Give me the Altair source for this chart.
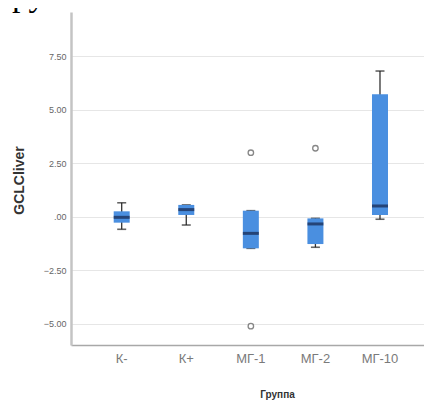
import altair as alt
import pandas as pd

# ---- data ----
groups = ["К-", "К+", "МГ-1", "МГ-2", "МГ-10"]
whisker_low = [-0.59, -0.39, -1.48, -1.43, -0.12]
q1 = [-0.28, 0.08, -1.48, -1.28, 0.08]
median = [-0.03, 0.33, -0.78, -0.34, 0.50]
q3 = [0.25, 0.55, 0.28, -0.08, 5.73]
whisker_high = [0.65, 0.55, 0.28, -0.08, 6.81]
outlier_group = ["МГ-1", "МГ-1", "МГ-2"]
outlier_value = [2.99, -5.12, 3.20]
y_ticks = [-5.0, -2.5, 0.0, 2.5, 5.0, 7.5]
top_text = "группой МГ-10 показала зн"

box_df = pd.DataFrame({
    "group": groups, "lo": whisker_low, "q1": q1,
    "med": median, "q3": q3, "hi": whisker_high,
})
out_df = pd.DataFrame({"group": outlier_group, "value": outlier_value})
txt_df = pd.DataFrame({"t": [top_text]})

FONT = "Liberation Sans"

xscale = alt.Scale(domain=groups, paddingInner=0, paddingOuter=0.2333, align=0.611)
yscale = alt.Scale(domain=[-6.0, 9.57], nice=False, zero=False)

x_enc = alt.X(
    "group:N", scale=xscale, sort=groups,
    axis=alt.Axis(
        title="Группа", labelAngle=0, ticks=False, grid=False,
        domainColor="#a8a8a8", domainWidth=1.3,
        labelFont=FONT, labelFontSize=13, labelColor="#7a7a7a", labelPadding=7,
        titleFont=FONT, titleFontSize=10, titleFontWeight="bold", titleColor="#333333",
        titleX=206, titleY=49, titleBaseline="middle", titleAlign="center",
    ),
)
y_axis = alt.Axis(
    title="GCLCliver", values=y_ticks, grid=True, gridColor="#e6e6e6", gridWidth=1,
    ticks=False, domainColor="#c4c4c4", domainWidth=2.5,
    labelFont=FONT, labelFontSize=9, labelColor="#666666", labelPadding=5,
    labelExpr="datum.value == 0 ? '.00' : format(datum.value, '.2f')",
    titleFont=FONT, titleFontSize=14, titleFontWeight="bold", titleColor="#333333",
    titleX=-52, titleY=168, titleAngle=270, titleAlign="center", titleBaseline="middle",
)

base = alt.Chart(box_df)

whisk = base.mark_rule(color="#333333", strokeWidth=1.3).encode(
    x=x_enc,
    y=alt.Y("lo:Q", scale=yscale, axis=y_axis),
    y2="hi:Q",
)
cap_lo = base.mark_tick(color="#222222", size=9, thickness=1.6).encode(
    x=alt.X("group:N", scale=xscale, sort=groups),
    y=alt.Y("lo:Q", scale=yscale),
)
cap_hi = base.mark_tick(color="#222222", size=9, thickness=1.6).encode(
    x=alt.X("group:N", scale=xscale, sort=groups),
    y=alt.Y("hi:Q", scale=yscale),
)
box = base.mark_bar(color="#4a8fe0", size=16).encode(
    x=alt.X("group:N", scale=xscale, sort=groups),
    y=alt.Y("q1:Q", scale=yscale),
    y2="q3:Q",
)
med = base.mark_tick(color="#15244a", size=16, thickness=3).encode(
    x=alt.X("group:N", scale=xscale, sort=groups),
    y=alt.Y("med:Q", scale=yscale),
)
outl = alt.Chart(out_df).mark_point(
    shape="circle", size=30, filled=False, color="#555555", strokeWidth=1.3, fill="white"
).encode(
    x=alt.X("group:N", scale=xscale, sort=groups),
    y=alt.Y("value:Q", scale=yscale),
)
top = alt.Chart(txt_df).mark_text(
    font="Liberation Serif", fontSize=34, align="left", baseline="alphabetic", color="#000000"
).encode(
    x=alt.value(-73), y=alt.value(-6), text="t:N",
)

chart = alt.layer(whisk, cap_lo, cap_hi, box, med, outl, top).properties(
    width=353, height=333,
    autosize=alt.AutoSizeParams(type="none"),
    padding={"left": 63, "top": 4, "right": 0, "bottom": 55},
    background="white",
).configure_view(stroke=None)

chart.save("out.html", embed_options={"renderer": "svg", "actions": False})
